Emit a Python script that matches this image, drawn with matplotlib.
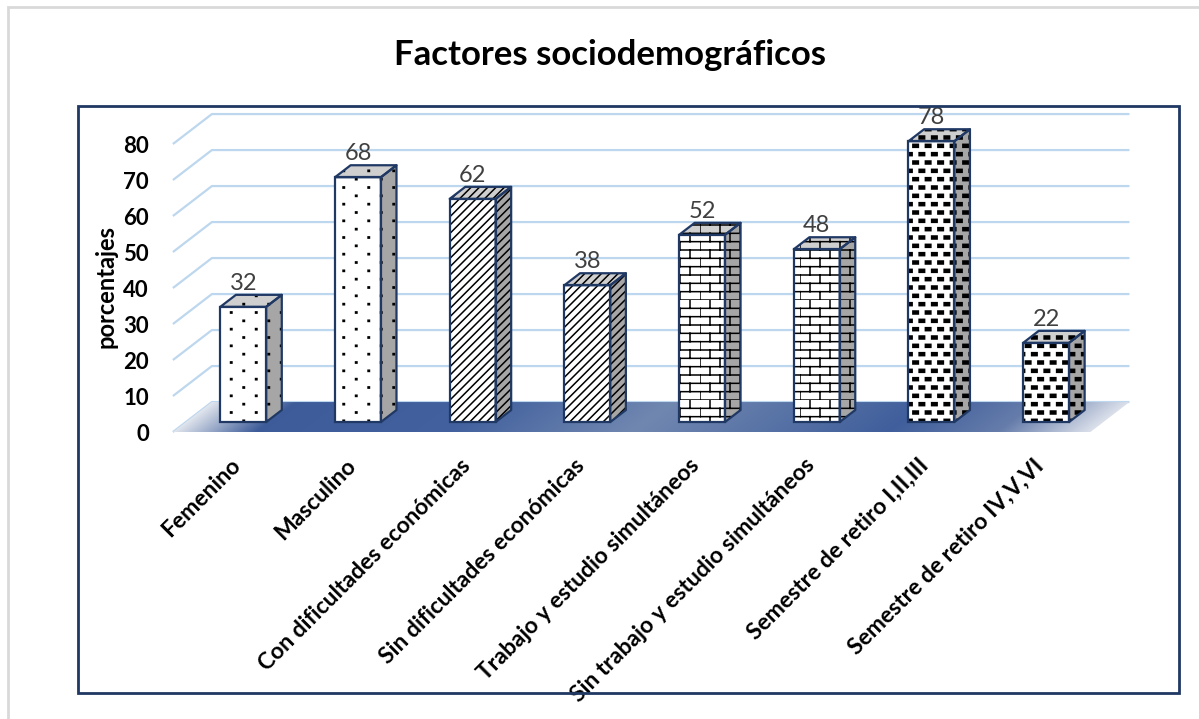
import warnings
import numpy as np
import matplotlib
matplotlib.use('Agg')
import matplotlib.pyplot as plt
from matplotlib import hatch as mhatch
from matplotlib.path import Path
from matplotlib.patches import Polygon, Rectangle

warnings.filterwarnings('ignore')

categorias = ['Femenino', 'Masculino', 'Con dificultades económicas',
              'Sin dificultades económicas', 'Trabajo y estudio simultáneos',
              'Sin trabajo y estudio simultáneos', 'Semestre de retiro I,II,III',
              'Semestre de retiro IV,V,VI']
porcentajes = [32, 68, 62, 38, 52, 48, 78, 22]
tramas = ['p', 'p', '////', '////', 'b', 'b', 'c', 'c']
yticks = list(range(0, 81, 10))


# custom hatches: 'b' = bricks, 'c' = small black rectangles, 'p' = tiny dots
class Ladrillos(mhatch.HatchPatternBase):
    def __init__(self, hatch, density):
        self.filas = hatch.count('b') * 12
        self.cols = 5
        self.num_vertices = self.filas * (self.cols + 1) * 2

    def set_vertices_and_codes(self, vertices, codes):
        segs = []
        for r in range(self.filas):
            y0, y1 = r / self.filas, (r + 1) / self.filas
            segs.append([(0, y0), (1, y0)])
            for c in range(self.cols):
                xx = (c + 0.5 * (r % 2)) / self.cols
                segs.append([(xx, y0), (xx, y1)])
        vertices[:] = np.array(segs, dtype=float).reshape(-1, 2)
        codes[0::2] = Path.MOVETO
        codes[1::2] = Path.LINETO


class Rectangulos(mhatch.HatchPatternBase):
    letra = 'c'
    filas_base, cols, w, h = 12, 8, 0.055, 0.03

    def __init__(self, hatch, density):
        self.filas = hatch.count(self.letra) * self.filas_base
        self.num_vertices = self.filas * self.cols * 5

    def set_vertices_and_codes(self, vertices, codes):
        w, h = self.w, self.h
        rect = np.array([[-w, -h], [w, -h], [w, h], [-w, h], [-w, -h]]) / 2
        partes = []
        for r in range(self.filas):
            for c in range(self.cols):
                partes.append(rect + [(c + 0.5 * (r % 2) + 0.25) / self.cols,
                                      (r + 0.5) / self.filas])
        vertices[:] = np.concatenate(partes)
        codes[:] = np.tile([Path.MOVETO, Path.LINETO, Path.LINETO, Path.LINETO,
                            Path.CLOSEPOLY], self.filas * self.cols)


class Puntos(Rectangulos):
    letra = 'p'
    filas_base, cols, w, h = 12, 4, 0.014, 0.012


mhatch._hatch_types.extend([Ladrillos, Rectangulos, Puntos])

plt.rcParams['font.family'] = ['Lato', 'DejaVu Sans']
plt.rcParams['hatch.linewidth'] = 1.1

fig = plt.figure(figsize=(11.99, 7.19), dpi=100)
ax = fig.add_axes([0.1334, 0.388, 0.8173, 0.4659])

x = np.arange(len(categorias))
piso_dx, piso_dy = 0.34, 8.33          # depth of the floor
off_dx, off_dy = piso_dx / 3, piso_dy / 3   # bars sit a bit behind the front edge
prof_dx, prof_dy = piso_dx * 0.4, piso_dy * 0.4   # depth of each bar
ancho = 0.40
x_izq, x_der = -0.5, 7.5

# back wall gridlines with the little diagonal on the left
for k in yticks:
    ax.plot([x_izq, x_izq + piso_dx, x_der + piso_dx], [k, k + piso_dy, k + piso_dy],
            color='#BDD7EE', lw=1.6, zorder=1, solid_capstyle='butt')

# floor with gradient
piso = Polygon([(x_izq, 0), (x_der, 0), (x_der + piso_dx, piso_dy), (x_izq + piso_dx, piso_dy)],
               closed=True, facecolor='none', edgecolor='none')
ax.add_patch(piso)
gx, gy = np.meshgrid(np.linspace(x_izq, x_der + piso_dx, 600), np.linspace(0, piso_dy, 40))
t = (gx - (x_izq + piso_dx * gy / piso_dy)) / (x_der - x_izq)
stops = [0, 0.09, 0.30, 0.50, 0.78, 0.90, 1.0]
R = [0.88, 0.24, 0.26, 0.44, 0.25, 0.40, 0.86]
G = [0.90, 0.36, 0.38, 0.53, 0.37, 0.49, 0.88]
B = [0.93, 0.60, 0.62, 0.69, 0.61, 0.67, 0.92]
grad = np.stack([np.interp(t, stops, c) for c in (R, G, B)], axis=-1)
im = ax.imshow(grad, extent=[x_izq, x_der + piso_dx, 0, piso_dy], origin='lower',
               aspect='auto', zorder=2, interpolation='bilinear')
im.set_clip_path(piso)

# bars: front face, side face, top face
xc = x + off_dx
frente = ax.bar(xc, porcentajes, width=ancho, bottom=off_dy, color='white',
                edgecolor='black', linewidth=0, zorder=3)
for p, h in zip(frente, tramas):
    p.set_hatch(h)
ax.bar(xc, porcentajes, width=ancho, bottom=off_dy, fill=False,
       edgecolor='#1F3864', linewidth=1.6, zorder=4)

for xi, v, h in zip(xc, porcentajes, tramas):
    x0, x1 = xi - ancho / 2, xi + ancho / 2
    y0, y1 = off_dy, off_dy + v
    lado = [(x1, y0), (x1 + prof_dx, y0 + prof_dy), (x1 + prof_dx, y1 + prof_dy), (x1, y1)]
    tapa = [(x0, y1), (x1, y1), (x1 + prof_dx, y1 + prof_dy), (x0 + prof_dx, y1 + prof_dy)]
    for pts, fc in ((lado, '#A6A6A6'), (tapa, '#CFCFCF')):
        ax.add_patch(Polygon(pts, closed=True, facecolor=fc, edgecolor='black', lw=0,
                             hatch=h, zorder=3))
        ax.add_patch(Polygon(pts, closed=True, fill=False, edgecolor='#1F3864', lw=1.6,
                             zorder=4, joinstyle='round'))
    ax.text(xi, y1 + prof_dy + 1.4, str(v), ha='center', va='baseline',
            fontsize=17, color='#404040', zorder=5)

ax.set_xlim(-0.613, 7.931)
ax.set_ylim(-2.22, 90.83)
ax.set_xticks(xc - 0.05, categorias, rotation=45, ha='right', va='center',
              rotation_mode='anchor', fontweight='bold', fontsize=16.5)
ax.set_yticks(yticks, [str(k) for k in yticks], fontweight='bold', fontsize=16)
ax.tick_params(axis='x', length=0, pad=16)
ax.tick_params(axis='y', length=0, pad=8)
ax.set_ylabel('porcentajes', fontweight='bold', fontsize=17)
ax.yaxis.set_label_coords(-0.043, 0.457)
for s in ax.spines.values():
    s.set_visible(False)
ax.patch.set_visible(False)

fig.text(0.509, 0.9235, 'Factores sociodemográficos', ha='center', va='center',
         fontsize=25, fontweight='bold')

# chart area frame and outer grey frame
fig.add_artist(Rectangle((0.0648, 0.0362), 0.9185, 0.8164, transform=fig.transFigure,
                         fill=False, edgecolor='#1F3864', lw=2))
fig.add_artist(Rectangle((0.0067, -0.1), 1.2, 1.0903, transform=fig.transFigure,
                         fill=False, edgecolor='#D9D9D9', lw=2))

fig.savefig('out.png', dpi=100)
